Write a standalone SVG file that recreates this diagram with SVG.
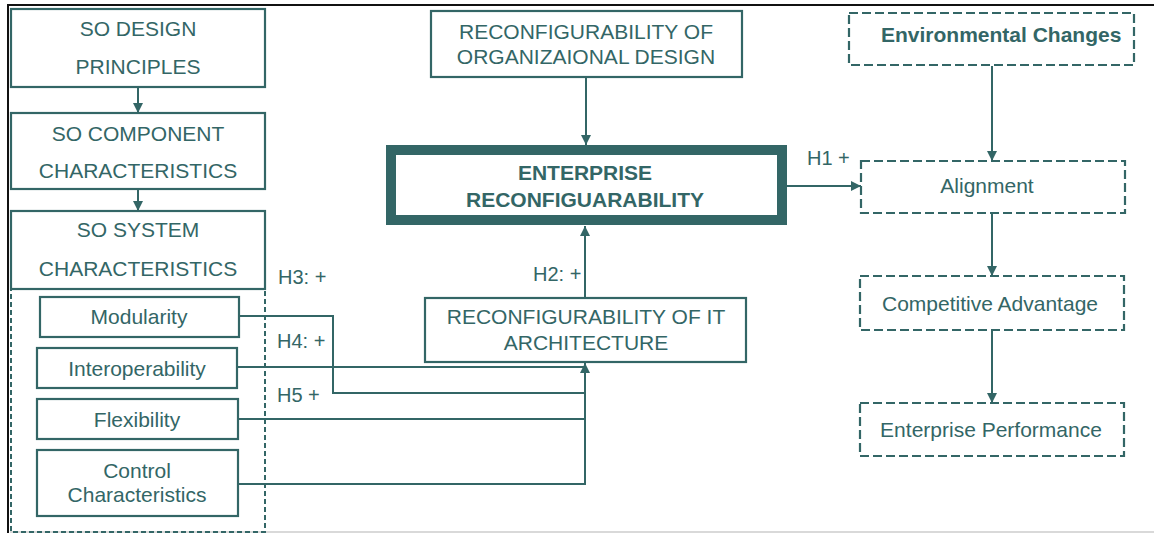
<svg xmlns="http://www.w3.org/2000/svg" width="1154" height="533" viewBox="0 0 1154 533">
<defs>
<marker id="ah" viewBox="0 0 10 10" refX="10" refY="5" markerWidth="10" markerHeight="10" markerUnits="userSpaceOnUse" orient="auto">
<path d="M0,0 L10,5 L0,10 Z" fill="#336666"/>
</marker>
<style>
.box{fill:#fff;stroke:#336666;stroke-width:2.2}
.dash{fill:#fff;stroke:#336666;stroke-width:2.2;stroke-dasharray:9 4}
.dash2{fill:none;stroke:#336666;stroke-width:2;stroke-dasharray:5 3}
.thick{fill:#fff;stroke:#336666;stroke-width:10}
.t{font-family:"Liberation Sans",Arial,sans-serif;font-size:21px;fill:#336666;text-anchor:middle}
.b{font-weight:bold}
.lbl{font-family:"Liberation Sans",Arial,sans-serif;font-size:20px;fill:#336666}
.c{fill:none;stroke:#336666;stroke-width:2}
.ca{fill:none;stroke:#336666;stroke-width:2;marker-end:url(#ah)}
</style>
</defs>
<rect width="1154" height="533" fill="#fff"/>
<g id="frame">
<line x1="8" y1="5" x2="1154" y2="5" stroke="#111" stroke-width="2"/>
<line x1="8" y1="4" x2="8" y2="533" stroke="#111" stroke-width="2"/>
<line x1="10" y1="532" x2="1154" y2="532" stroke="#ccc" stroke-width="1.5"/>
</g>
<g id="so-group">
<rect class="dash2" x="11" y="289" width="254" height="243"/>
</g>
<g id="so-design">
<rect class="box" x="11" y="9" width="254" height="78"/>
<text class="t" x="138" y="36">SO DESIGN</text>
<text class="t" x="138" y="74">PRINCIPLES</text>
</g>
<g id="so-component">
<rect class="box" x="11" y="113" width="254" height="76"/>
<text class="t" x="138" y="141">SO COMPONENT</text>
<text class="t" x="138" y="178">CHARACTERISTICS</text>
</g>
<g id="so-system">
<rect class="box" x="11" y="211" width="254" height="78"/>
<text class="t" x="138" y="237">SO SYSTEM</text>
<text class="t" x="138" y="276">CHARACTERISTICS</text>
</g>
<g id="modularity">
<rect class="box" x="40" y="297" width="199" height="40"/>
<text class="t" x="139" y="324">Modularity</text>
</g>
<g id="interoperability">
<rect class="box" x="37" y="348" width="200" height="40"/>
<text class="t" x="137" y="376">Interoperability</text>
</g>
<g id="flexibility">
<rect class="box" x="37" y="399" width="201" height="40"/>
<text class="t" x="137" y="427">Flexibility</text>
</g>
<g id="control">
<rect class="box" x="37" y="450" width="201" height="66"/>
<text class="t" x="137" y="478">Control</text>
<text class="t" x="137" y="502">Characteristics</text>
</g>
<g id="org-design">
<rect class="box" x="431" y="11" width="311" height="66"/>
<text class="t" x="586" y="39">RECONFIGURABILITY OF</text>
<text class="t" x="586" y="64">ORGANIZAIONAL DESIGN</text>
</g>
<g id="enterprise">
<rect class="thick" x="391" y="150" width="391" height="70"/>
<text class="t b" x="585" y="180">ENTERPRISE</text>
<text class="t b" x="585" y="207">RECONFIGUARABILITY</text>
</g>
<g id="it-arch">
<rect class="box" x="425" y="298" width="321" height="64"/>
<text class="t" x="586" y="324">RECONFIGURABILITY OF IT</text>
<text class="t" x="586" y="350">ARCHITECTURE</text>
</g>
<g id="env">
<rect class="dash" x="849" y="13" width="285" height="52"/>
<text class="t b" x="881" y="42" style="text-anchor:start">Environmental Changes</text>
</g>
<g id="alignment">
<rect class="dash" x="861" y="161" width="264" height="52"/>
<text class="t" x="987" y="193">Alignment</text>
</g>
<g id="competitive">
<rect class="dash" x="860" y="276" width="264" height="54"/>
<text class="t" x="990" y="311">Competitive Advantage</text>
</g>
<g id="performance">
<rect class="dash" x="860" y="403" width="264" height="53"/>
<text class="t" x="991" y="437">Enterprise Performance</text>
</g>
<g id="connectors">
<line class="ca" x1="138" y1="88" x2="138" y2="113"/>
<line class="ca" x1="138" y1="190" x2="138" y2="211"/>
<line class="ca" x1="586" y1="78" x2="586" y2="145"/>
<line class="ca" x1="585" y1="298" x2="585" y2="226"/>
<line class="ca" x1="787" y1="186" x2="861" y2="186"/>
<line class="ca" x1="992" y1="66" x2="992" y2="161"/>
<line class="ca" x1="992" y1="214" x2="992" y2="276"/>
<line class="ca" x1="992" y1="331" x2="992" y2="403"/>
<polyline class="c" points="239,316 333,316 333,393 585,393"/>
<line class="c" x1="237" y1="367" x2="585" y2="367"/>
<line class="c" x1="238" y1="419" x2="585" y2="419"/>
<polyline class="ca" points="238,484 585,484 585,363"/>
</g>
<g id="labels">
<text class="lbl" x="807" y="165">H1 +</text>
<text class="lbl" x="533" y="281">H2: +</text>
<text class="lbl" x="278" y="284">H3: +</text>
<text class="lbl" x="277" y="348">H4: +</text>
<text class="lbl" x="277" y="402">H5 +</text>
</g>
</svg>
